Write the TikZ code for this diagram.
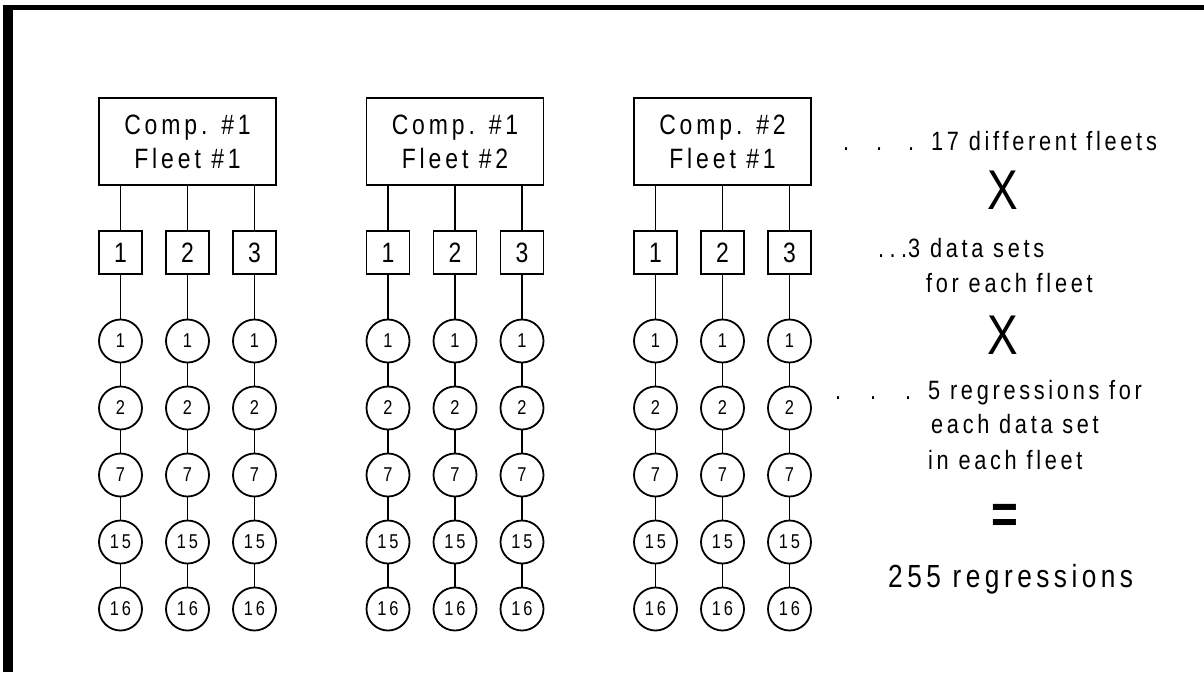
\documentclass[tikz,border=0pt]{standalone}
\usepackage{fontspec}
\setmainfont{Liberation Sans}[FakeStretch=0.82,LetterSpace=14]

\begin{document}
\begin{tikzpicture}[x=1pt, y=-1pt,
    fleet/.style={draw, line width=1.8pt, minimum width=177pt, minimum height=87pt,
        inner sep=0pt, align=center, font=\fontsize{28}{34}\selectfont},
    dataset/.style={draw, line width=1.8pt, minimum size=43pt, inner sep=0pt,
        font=\fontsize{28}{32}\selectfont},
    regr/.style={draw, circle, line width=1.8pt, minimum size=43pt, inner sep=0pt,
        font=\fontsize{20}{22}\selectfont},
    link/.style={line width=1.8pt},
    note/.style={anchor=base west, inner sep=0pt, font=\fontsize{26.5}{30}\selectfont},
    times/.style={inner sep=0pt, font=\fontsize{56}{60}\selectfont}]

    \def\Gap{267.5}
    \def\Col{67}
    \newcommand\dotbox[1]{\makebox[#1][l]{.}}

    \useasboundingbox (0,0) rectangle (1204,672);

    % Frame
    \fill[black] (3,5) rectangle (12.5,672);
    \fill[black] (3,5) rectangle (1204,10);

    % Fleets, data sets and regressions
    \foreach \g/\cmp/\flt in {1/1/1, 2/1/2, 3/2/1} {
        \pgfmathsetmacro\bx{187.5+\Gap*(\g-1)}
        \node[fleet] (fleet-\g) at (\bx,141.5) {Comp. \#\cmp\\Fleet \#\flt};
        \foreach \j in {1,2,3} {
            \pgfmathsetmacro\cx{\bx+\Col*(\j-2)}
            \node[dataset] (set-\g-\j) at (\cx,252.5) {\j};
            \draw[link] (set-\g-\j.north) -- (set-\g-\j.north |- fleet-\g.south);
            \foreach \r [count=\k] in {1,2,7,15,16} {
                \node[regr] (reg-\g-\j-\k) at (\cx,{341+\Col*(\k-1)}) {\r};
                \ifnum \k=1
                    \draw[link] (set-\g-\j) -- (reg-\g-\j-\k);
                \else
                    \pgfmathtruncatemacro\p{\k-1}
                    \draw[link] (reg-\g-\j-\p) -- (reg-\g-\j-\k);
                \fi
            }
        }
    }

    % Counting
    \node[note] (fleets) at (843,150) {\dotbox{33pt}\dotbox{32pt}\dotbox{23pt}17 different fleets};
    \node[times] (times-1) at (1003,190) {X};
    \node[note] (sets-a) at (878,257) {\dotbox{11.5pt}\dotbox{11.5pt}\dotbox{7pt}3 data sets};
    \node[note] (sets-b) at (926,292) {for each fleet};
    \node[times] (times-2) at (1003,335) {X};
    \node[note] (regs-a) at (835,399) {\dotbox{35pt}\dotbox{35pt}\dotbox{23pt}5 regressions for};
    \node[note] (regs-b) at (931,433) {each data set};
    \node[note] (regs-c) at (928,469) {in each fleet};
    \node[times, font=\bfseries\fontsize{56}{60}\selectfont] (equals) at (1005,519) {=};
    \node[note, font=\fontsize{32}{36}\selectfont] (total) at (888,587) {255 regressions};

\end{tikzpicture}
\end{document}
